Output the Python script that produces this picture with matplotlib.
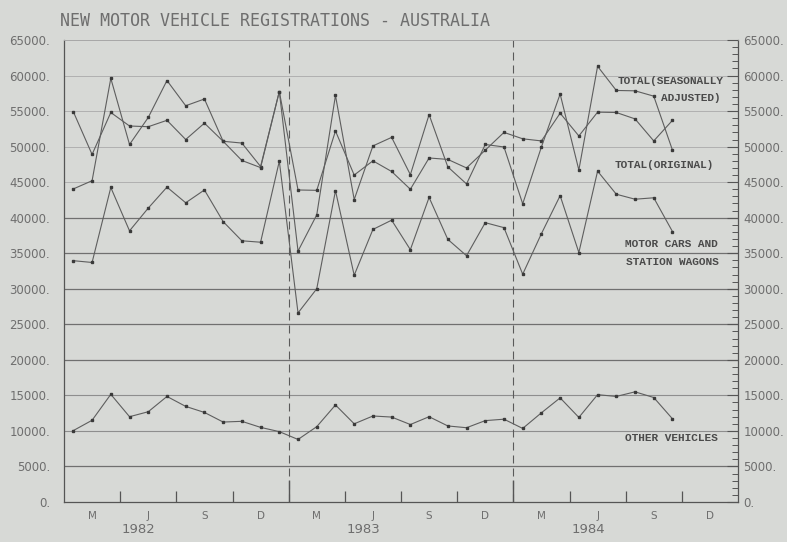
import matplotlib
matplotlib.use("Agg")
import matplotlib.pyplot as plt
from matplotlib.ticker import FixedLocator, MultipleLocator
import numpy as np

# ---------------- data (monthly, Jan 1982 - Sep 1984) ----------------
years = ["1982", "1983", "1984"]
quarter_labels = ["M", "J", "S", "D"]

total_sa = [54900, 48900, 54800, 52900, 52800, 53700, 51000, 53300, 50750, 50500, 47200, 57750,
            43900, 43850, 52200, 46000, 48000, 46500, 44000, 48400, 48200, 47000, 49500, 52000,
            51100, 50800, 54700, 51500, 54850, 54800, 53900, 50800, 53700]
total_orig = [44050, 45200, 59600, 50300, 54100, 59300, 55750, 56700, 50750, 48050, 47050, 57750,
              35300, 40400, 57200, 42550, 50100, 51300, 46050, 54500, 47150, 44750, 50300, 49950,
              41950, 49950, 57400, 46700, 61300, 57900, 57850, 57100, 49500]
cars_wagons = [33950, 33700, 44250, 38150, 41350, 44300, 42100, 43900, 39450, 36750, 36550, 47950,
               26600, 30000, 43800, 31900, 38350, 39650, 35500, 42850, 36950, 34650, 39300, 38600,
               32050, 37750, 43100, 35100, 46550, 43300, 42600, 42800, 38050]
other_vehicles = [10050, 11500, 15150, 12000, 12700, 14850, 13450, 12600, 11250, 11350, 10500, 9900,
                  8800, 10600, 13650, 11000, 12100, 11950, 10900, 12000, 10700, 10450, 11450, 11650,
                  10350, 12550, 14650, 11900, 15100, 14850, 15500, 14700, 11700]

y_ticks = list(range(0, 65001, 5000))

# ---------------- style ----------------
BG = "#d7d9d6"
LINE = "#5e5e5e"
MARK = "#3a3a3a"
TXT = "#6e6e6e"
TYPE = "#4a4a4a"

fig = plt.figure(figsize=(7.87, 5.42), dpi=100, facecolor=BG)
W, H = 787, 542
left, right, top, bottom = 64, 738, 40, 502
ax = fig.add_axes([left / W, 1 - bottom / H, (right - left) / W, (bottom - top) / H])
ax.set_facecolor(BG)

n_months = 12 * len(years)
ax.set_xlim(0, n_months)
ax.set_ylim(0, 65000)

# horizontal rules
for v in y_ticks[1:]:
    if 5000 <= v <= 40000 and v not in (10000, 15000):
        ax.axhline(v, color="#707070", lw=0.9, zorder=1)
    elif v in (10000, 15000, 20000):
        ax.axhline(v, color="#8e8e8e", lw=0.8, zorder=1)
    else:
        ax.axhline(v, color="#b0b0b0", lw=0.7, zorder=1)

# year dividers
for b in range(12, n_months, 12):
    ax.axvline(b, color="#5a5a5a", lw=0.8, linestyle=(0, (7.2, 4.5)), zorder=1)

# series
x = np.arange(len(total_sa)) + 0.5
for series in (total_sa, total_orig, cars_wagons, other_vehicles):
    ax.plot(x, series, color=LINE, lw=0.8, marker="s", ms=2.0,
            mfc=MARK, mec=MARK, zorder=3)

# spines
for s in ("left", "bottom", "right"):
    ax.spines[s].set_color("#555555")
    ax.spines[s].set_linewidth(0.9)
ax.spines["top"].set_color("#a8a8a8")
ax.spines["top"].set_linewidth(0.7)

# left y axis
ax.set_yticks(y_ticks)
ax.set_yticklabels([f"{v}." for v in y_ticks])
ax.tick_params(axis="y", length=0, pad=10, labelsize=8.5, labelcolor=TXT)

# x axis: quarter ticks and year ticks
q_bounds = [12 * i + q for i in range(len(years)) for q in (3, 6, 9)]
ax.set_xticks(q_bounds)
ax.set_xticklabels([])
ax.xaxis.set_minor_locator(FixedLocator(list(range(12, n_months, 12))))
ax.tick_params(axis="x", which="major", direction="in", length=8, width=0.9, color="#555555")
ax.tick_params(axis="x", which="minor", direction="in", length=16, width=1.0, color="#555555")

for i, yr in enumerate(years):
    for q, lab in enumerate(quarter_labels):
        ax.annotate(lab, xy=(12 * i + 3 * q + 1.5, 0), xycoords=("data", "axes fraction"),
                    xytext=(0, -10), textcoords="offset points", ha="center", va="center",
                    fontsize=7.5, color=TXT)
    ax.annotate(yr, xy=(12 * i + 4.0, 0), xycoords=("data", "axes fraction"),
                xytext=(0, -20), textcoords="offset points", ha="center", va="center",
                fontsize=9.5, color=TXT)

# right y axis
ax2 = ax.twinx()
ax2.set_ylim(ax.get_ylim())
ax2.set_yticks(y_ticks)
ax2.set_yticklabels([f"{v}." for v in y_ticks])
ax2.yaxis.set_minor_locator(MultipleLocator(1000))
ax2.tick_params(axis="y", which="major", direction="in", length=8, width=0.8,
                color="#555555", pad=4, labelsize=8.5, labelcolor=TXT)
ax2.tick_params(axis="y", which="minor", direction="in", length=4.5, width=0.7, color="#555555")
for s in ax2.spines.values():
    s.set_visible(False)

# series labels (typewriter style)
tkw = dict(family="Liberation Mono", fontweight="bold", fontsize=8, color=TYPE,
           ha="right", va="center", zorder=4)
ax.text(35.25, 59200, "TOTAL(SEASONALLY", **tkw)
ax.text(35.05, 56800, "ADJUSTED)", **tkw)
ax.text(34.7, 47400, "TOTAL(ORIGINAL)", **tkw)
ax.text(34.9, 36300, "MOTOR CARS AND", **tkw)
ax.text(34.95, 33800, "STATION WAGONS", **tkw)
ax.text(34.9, 8950, "OTHER VEHICLES", **tkw)

# title
fig.text(60 / W, 1 - 21 / H, "NEW MOTOR VEHICLE REGISTRATIONS - AUSTRALIA",
         family="DejaVu Sans Mono", fontsize=12, color=TXT, ha="left", va="center")

fig.savefig("out.png", dpi=100, facecolor=BG)
